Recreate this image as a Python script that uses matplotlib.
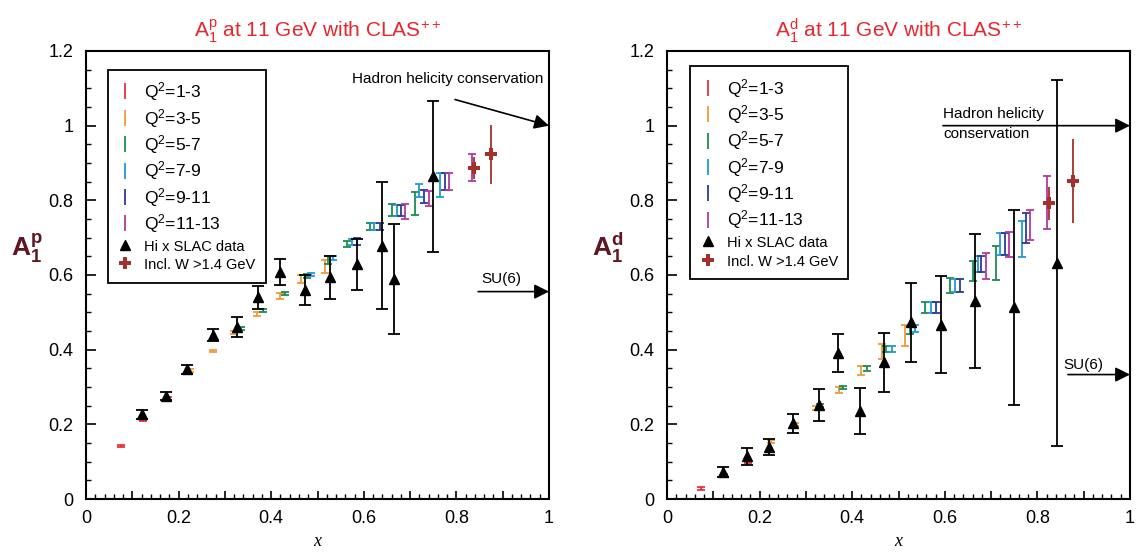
import matplotlib
matplotlib.use("Agg")
import matplotlib.pyplot as plt
from matplotlib.lines import Line2D
from matplotlib.ticker import MultipleLocator, FuncFormatter

plt.rcParams['font.family'] = ['Liberation Sans', 'DejaVu Sans']
plt.rcParams['mathtext.fontset'] = 'custom'
plt.rcParams['mathtext.rm'] = 'Liberation Sans'
plt.rcParams['mathtext.it'] = 'Liberation Sans:italic'
plt.rcParams['mathtext.bf'] = 'Liberation Sans:bold'

# ---------------- data: proton ----------------
p_q13_x = [0.075, 0.124, 0.178]
p_q13_y = [0.141, 0.212, 0.269]
p_q13_e = [0.003, 0.003, 0.003]
p_q35_x = [0.225, 0.275, 0.320, 0.369, 0.419, 0.464, 0.516]
p_q35_y = [0.344, 0.397, 0.447, 0.496, 0.544, 0.590, 0.623]
p_q35_e = [0.003, 0.003, 0.004, 0.006, 0.008, 0.011, 0.018]
p_q57_x = [0.334, 0.382, 0.430, 0.477, 0.523, 0.563, 0.613, 0.660, 0.710]
p_q57_y = [0.457, 0.505, 0.551, 0.598, 0.640, 0.683, 0.730, 0.773, 0.792]
p_q57_e = [0.003, 0.003, 0.004, 0.005, 0.010, 0.008, 0.010, 0.016, 0.031]
p_q79_x = [0.485, 0.534, 0.574, 0.623, 0.671, 0.720, 0.765]
p_q79_y = [0.602, 0.645, 0.689, 0.730, 0.773, 0.826, 0.842]
p_q79_e = [0.004, 0.006, 0.008, 0.010, 0.014, 0.018, 0.032]
p_q911_x = [0.585, 0.634, 0.680, 0.729, 0.775]
p_q911_y = [0.690, 0.730, 0.773, 0.810, 0.850]
p_q911_e = [0.010, 0.010, 0.015, 0.017, 0.022]
p_q1113_x = [0.689, 0.740, 0.785, 0.833]
p_q1113_y = [0.771, 0.806, 0.850, 0.888]
p_q1113_e = [0.020, 0.020, 0.022, 0.037]
p_w_x = [0.837, 0.874]
p_w_y = [0.887, 0.923]
p_w_e = [0.030, 0.080]
p_slac_x = [0.122, 0.173, 0.219, 0.274, 0.327, 0.371, 0.418, 0.472, 0.527, 0.585, 0.640, 0.666, 0.749]
p_slac_y = [0.227, 0.275, 0.348, 0.440, 0.460, 0.540, 0.608, 0.559, 0.594, 0.629, 0.678, 0.589, 0.864]
p_slac_e = [0.012, 0.011, 0.012, 0.016, 0.027, 0.030, 0.036, 0.040, 0.057, 0.068, 0.170, 0.148, 0.202]

# ---------------- data: deuteron ----------------
d_q13_x = [0.074, 0.124, 0.175]
d_q13_y = [0.027, 0.065, 0.100]
d_q13_e = [0.004, 0.003, 0.004]
d_q35_x = [0.225, 0.276, 0.321, 0.371, 0.420, 0.465, 0.515]
d_q35_y = [0.154, 0.199, 0.244, 0.293, 0.344, 0.395, 0.438]
d_q35_e = [0.004, 0.004, 0.005, 0.008, 0.012, 0.020, 0.027]
d_q57_x = [0.330, 0.380, 0.431, 0.474, 0.524, 0.558, 0.611, 0.661, 0.710]
d_q57_y = [0.251, 0.299, 0.349, 0.402, 0.453, 0.513, 0.572, 0.610, 0.632]
d_q57_e = [0.004, 0.005, 0.006, 0.008, 0.010, 0.015, 0.020, 0.027, 0.045]
d_q79_x = [0.485, 0.535, 0.571, 0.622, 0.672, 0.720, 0.766]
d_q79_y = [0.402, 0.457, 0.513, 0.572, 0.629, 0.683, 0.697]
d_q79_e = [0.008, 0.010, 0.015, 0.018, 0.021, 0.030, 0.048]
d_q911_x = [0.582, 0.632, 0.679, 0.730, 0.775]
d_q911_y = [0.513, 0.572, 0.629, 0.683, 0.727]
d_q911_e = [0.015, 0.018, 0.021, 0.030, 0.040]
d_q1113_x = [0.690, 0.739, 0.785, 0.820]
d_q1113_y = [0.625, 0.681, 0.734, 0.794]
d_q1113_e = [0.035, 0.033, 0.040, 0.070]
d_w_x = [0.826, 0.876]
d_w_y = [0.792, 0.852]
d_w_e = [0.045, 0.113]
d_slac_x = [0.122, 0.173, 0.220, 0.272, 0.328, 0.370, 0.416, 0.469, 0.526, 0.592, 0.666, 0.750, 0.843]
d_slac_y = [0.072, 0.114, 0.139, 0.203, 0.251, 0.391, 0.235, 0.366, 0.473, 0.467, 0.531, 0.513, 0.633]
d_slac_e = [0.013, 0.022, 0.022, 0.025, 0.043, 0.050, 0.062, 0.079, 0.105, 0.130, 0.180, 0.260, 0.490]

q2_labels = ['1-3', '3-5', '5-7', '7-9', '9-11', '11-13']
q2_colors = ['#e8303a', '#f09a3a', '#1a8c4e', '#1e9ad6', '#2c3a98', '#b03a9e']
w_color = '#a3302a'
ylab_color = '#5e1620'
title_color = '#e8262d'

proton = dict(
    q2=[(p_q13_x, p_q13_y, p_q13_e), (p_q35_x, p_q35_y, p_q35_e), (p_q57_x, p_q57_y, p_q57_e),
        (p_q79_x, p_q79_y, p_q79_e), (p_q911_x, p_q911_y, p_q911_e), (p_q1113_x, p_q1113_y, p_q1113_e)],
    w=(p_w_x, p_w_y, p_w_e), slac=(p_slac_x, p_slac_y, p_slac_e))
deuteron = dict(
    q2=[(d_q13_x, d_q13_y, d_q13_e), (d_q35_x, d_q35_y, d_q35_e), (d_q57_x, d_q57_y, d_q57_e),
        (d_q79_x, d_q79_y, d_q79_e), (d_q911_x, d_q911_y, d_q911_e), (d_q1113_x, d_q1113_y, d_q1113_e)],
    w=(d_w_x, d_w_y, d_w_e), slac=(d_slac_x, d_slac_y, d_slac_e))

fig = plt.figure(figsize=(11.38, 5.52), dpi=100)
axL = fig.add_axes([86/1138, 1-499/552, 463/1138, 448/552])
axR = fig.add_axes([667/1138, 1-499/552, 463/1138, 448/552])


def fmt_x(v, pos):
    r = round(v, 2)
    if abs(round(r / 0.2) * 0.2 - r) > 1e-6:
        return ''
    if abs(r) < 1e-9:
        return '0'
    if abs(r - 1) < 1e-9:
        return '1'
    return f'{r:g}'


def fmt_y(v, pos):
    r = round(v, 2)
    if abs(r) < 1e-9:
        return '0'
    if abs(r - 1) < 1e-9:
        return '1'
    return f'{r:g}'


def draw(ax, d, sup):
    for (x, y, e), c in zip(d['q2'], q2_colors):
        ax.errorbar(x, y, yerr=e, fmt='none', ecolor=c, elinewidth=1.3,
                    capsize=3.2, capthick=1.3, zorder=3)
    wx, wy, we = d['w']
    ax.errorbar(wx, wy, yerr=we, fmt='P', color=w_color, ms=8.5, mew=0,
                elinewidth=1.3, capsize=4, capthick=1.3, zorder=4)
    sx, sy, se = d['slac']
    ax.errorbar(sx, sy, yerr=se, fmt='^', color='black', ms=7.5,
                elinewidth=1.3, capsize=4, capthick=1.3, zorder=5)

    ax.set_xlim(0, 1)
    ax.set_ylim(0, 1.2)
    ax.xaxis.set_major_locator(MultipleLocator(0.1))
    ax.xaxis.set_minor_locator(MultipleLocator(0.02))
    ax.yaxis.set_major_locator(MultipleLocator(0.2))
    ax.yaxis.set_minor_locator(MultipleLocator(0.05))
    ax.xaxis.set_major_formatter(FuncFormatter(fmt_x))
    ax.yaxis.set_major_formatter(FuncFormatter(fmt_y))
    ax.tick_params(axis='x', which='major', direction='in', length=6, width=1.2,
                   labelsize=13, pad=8, top=False)
    ax.tick_params(axis='x', which='minor', direction='in', length=3.5, width=1.0, top=False)
    ax.tick_params(axis='y', which='major', direction='in', length=7, width=1.2,
                   labelsize=13, pad=9, right=False)
    ax.tick_params(axis='y', which='minor', direction='in', length=3.5, width=1.0, right=False)
    for s in ax.spines.values():
        s.set_linewidth(1.5)
    ax.set_xlabel('x', family='Liberation Serif', style='italic', fontsize=13, labelpad=4)
    ax.text(-0.128, 0.56, r'$\mathbf{A_1^{%s}}$' % sup, transform=ax.transAxes,
            ha='center', va='center', fontsize=19, color=ylab_color)
    ax.set_title(r'$\mathrm{A_1^{%s}}$ at 11 GeV with CLAS$^{++}$' % sup,
                 color=title_color, fontsize=15, pad=10)

    handles = [Line2D([], [], color=c, marker='|', linestyle='None', ms=11, mew=1.3)
               for c in q2_colors]
    handles.append(Line2D([], [], color='black', marker='^', linestyle='None', ms=7))
    handles.append(Line2D([], [], color=w_color, marker='P', linestyle='None', ms=8, mew=0))
    labels = [r'Q$^2$=' + q for q in q2_labels] + ['Hi x SLAC data', 'Incl. W >1.4 GeV']
    return handles, labels


hL, lL = draw(axL, proton, 'p')
hR, lR = draw(axR, deuteron, 'd')

for ax, h, l, anchor in [(axL, hL, lL, (0.047, 0.958)), (axR, hR, lR, (0.05, 0.966))]:
    leg = ax.legend(h, l, loc='upper left', bbox_to_anchor=anchor, fontsize=12.5,
                    frameon=True, fancybox=False, edgecolor='black', framealpha=1,
                    handlelength=0.8, handletextpad=0.7, labelspacing=0.2,
                    borderpad=0.6, borderaxespad=0)
    leg.get_frame().set_linewidth(1.3)
    for t in leg.get_texts()[6:]:
        t.set_fontsize(10.5)

arrow = dict(arrowstyle='-|>', mutation_scale=22, lw=1.2, color='black',
             shrinkA=0, shrinkB=0)
# proton annotations
axL.text(0.988, 1.125, 'Hadron helicity conservation', ha='right', va='center', fontsize=11)
axL.annotate('', xy=(1.0, 1.0), xytext=(0.797, 1.07), arrowprops=arrow, annotation_clip=False)
axL.text(0.898, 0.589, 'SU(6)', ha='center', va='center', fontsize=11)
axL.annotate('', xy=(1.0, 5/9), xytext=(0.847, 5/9), arrowprops=arrow, annotation_clip=False)
# deuteron annotations
axR.text(0.596, 1.031, 'Hadron helicity', ha='left', va='center', fontsize=11)
axR.text(0.596, 0.978, 'conservation', ha='left', va='center', fontsize=11)
axR.annotate('', xy=(1.0, 1.0), xytext=(0.596, 1.0), arrowprops=arrow, annotation_clip=False)
axR.text(0.855, 0.359, 'SU(6)', ha='left', va='center', fontsize=11)
axR.annotate('', xy=(1.0, 1/3), xytext=(0.866, 1/3), arrowprops=arrow, annotation_clip=False)

fig.savefig('out.png', dpi=100)
